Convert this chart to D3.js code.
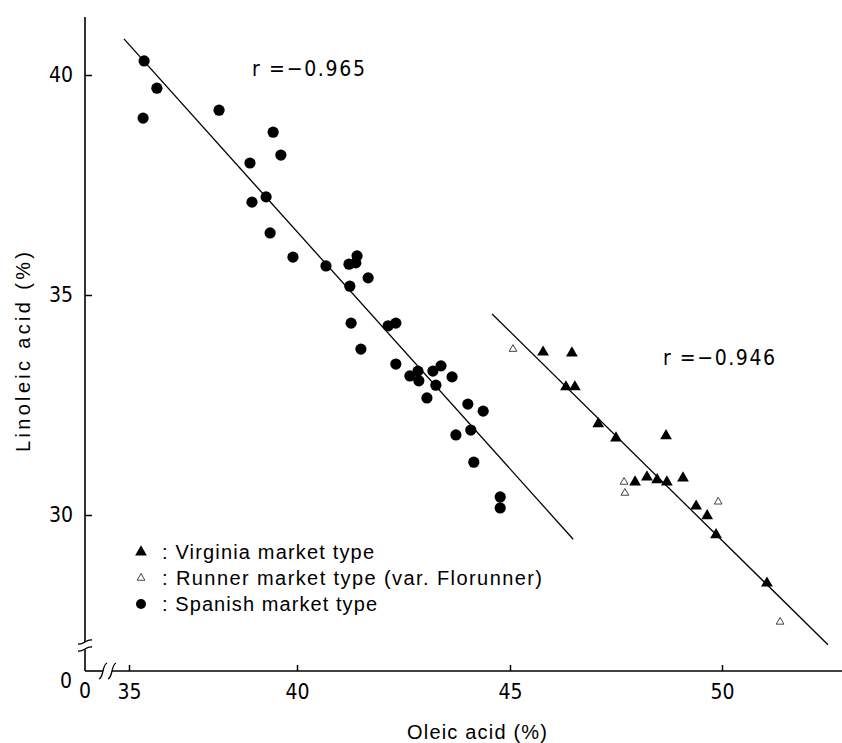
<!DOCTYPE html>
<html>
<head>
<meta charset="utf-8">
<script src="https://cdn.jsdelivr.net/npm/d3@7/dist/d3.min.js"></script>
<style>
  body { margin: 0; background: #fff; }
</style>
</head>
<body>
<div id="chart"></div>
<script>
// Spanish market type (filled circles)
var spanishOleic = [35.45, 35.83, 35.42, 37.68, 39.29, 39.52, 38.60, 39.08, 38.66, 39.20,
    39.88, 40.68, 41.22, 41.38, 41.41, 41.67, 41.24, 41.27, 42.14, 42.32,
    41.50, 42.32, 42.65, 42.84, 42.86, 43.19, 43.38, 43.64, 43.26, 43.05,
    44.01, 44.37, 44.08, 43.73, 44.15, 44.77, 44.77];
var spanishLinoleic = [40.32, 39.70, 39.02, 39.20, 38.70, 38.18, 38.00, 37.23, 37.11, 36.41,
    35.86, 35.66, 35.70, 35.73, 35.89, 35.39, 35.20, 34.36, 34.30, 34.36,
    33.77, 33.43, 33.16, 33.27, 33.05, 33.27, 33.39, 33.14, 32.95, 32.66,
    32.52, 32.36, 31.93, 31.82, 31.20, 30.41, 30.16];

// Virginia market type (filled triangles)
var virginiaOleic = [45.78, 46.46, 46.32, 46.53, 47.08, 47.50, 48.68, 47.95, 48.23, 48.47,
    48.70, 49.08, 49.39, 49.65, 49.86, 51.06];
var virginiaLinoleic = [33.70, 33.68, 32.91, 32.91, 32.07, 31.75, 31.80, 30.75, 30.86, 30.80,
    30.75, 30.84, 30.20, 29.98, 29.55, 28.45];

// Runner market type, var. Florunner (open triangles)
var runnerOleic = [45.07, 47.69, 47.71, 49.91, 51.37];
var runnerLinoleic = [33.77, 30.75, 30.50, 30.30, 27.57];

// regression lines: [oleic, linoleic] end points
var spanishFit = [[34.85, 40.82], [46.49, 29.45]];
var virginiaFit = [[44.58, 34.57], [52.50, 27.05]];
var rTexts = ["r =\u22120.965", "r =\u22120.946"];

var xTicks = [35, 40, 45, 50];
var yTicks = [30, 35, 40];
var legendLabels = [": Virginia market type", ": Runner market type (var. Florunner)", ": Spanish market type"];

var width = 842, height = 743;
var numFont = "'Liberation Sans Narrow', 'DejaVu Sans Condensed', 'Arial Narrow', sans-serif";
var textFont = "'Liberation Sans', Arial, sans-serif";

var svg = d3.select("#chart").append("svg")
    .attr("width", width)
    .attr("height", height);

// the scanned x axis is not evenly spaced, so the scale follows each tick
var x = d3.scaleLinear().domain([35, 40, 45, 50]).range([129, 297, 510, 722]);
var y = d3.scaleLinear().domain([30, 40]).range([515, 75]);

var ax0 = 85, ay0 = 671;

// axes lines with breaks
var axisG = svg.append("g").attr("stroke", "#000").attr("stroke-width", 1.6).attr("fill", "none");
axisG.append("line").attr("x1", ax0).attr("x2", ax0).attr("y1", 17).attr("y2", 642);
axisG.append("line").attr("x1", ax0).attr("x2", ax0).attr("y1", 649).attr("y2", ay0);
axisG.append("line").attr("x1", ax0).attr("x2", 103).attr("y1", ay0).attr("y2", ay0);
axisG.append("line").attr("x1", 112).attr("x2", 842).attr("y1", ay0).attr("y2", ay0);

// break marks
[642, 649].forEach(function(by) {
    axisG.append("path")
        .attr("stroke-width", 1.3)
        .attr("d", "M" + (ax0 - 7) + "," + (by + 2) + " C" + (ax0 - 1) + "," + (by + 3) + " " + (ax0 + 1) + "," + (by - 3) + " " + (ax0 + 7) + "," + (by - 2));
});
[103, 112].forEach(function(bx) {
    axisG.append("path")
        .attr("stroke-width", 1.3)
        .attr("d", "M" + (bx - 4) + "," + (ay0 + 8) + " C" + (bx + 1) + "," + (ay0 + 6) + " " + (bx - 1) + "," + (ay0 - 6) + " " + (bx + 4) + "," + (ay0 - 8));
});

// x axis ticks + labels
var xAxis = svg.append("g")
    .attr("transform", "translate(0," + ay0 + ")")
    .call(d3.axisBottom(x).tickValues(xTicks).tickSize(-6).tickPadding(13).tickSizeOuter(0));
xAxis.select(".domain").remove();
xAxis.selectAll("line").attr("stroke-width", 1.5);
xAxis.selectAll("text").attr("font-size", 21).attr("font-family", numFont).attr("fill", "#000");

// y axis ticks + labels
var yAxis = svg.append("g")
    .attr("transform", "translate(" + ax0 + ",0)")
    .call(d3.axisLeft(y).tickValues(yTicks).tickSize(-7).tickPadding(12).tickSizeOuter(0));
yAxis.select(".domain").remove();
yAxis.selectAll("line").attr("stroke-width", 1.5);
yAxis.selectAll("text").attr("font-size", 21).attr("font-family", numFont).attr("fill", "#000");

// zero labels at the broken origin
svg.append("text").attr("x", 72).attr("y", 688).attr("text-anchor", "end")
    .attr("font-size", 21).attr("font-family", numFont).text("0");
svg.append("text").attr("x", 85).attr("y", 698).attr("text-anchor", "middle")
    .attr("font-size", 21).attr("font-family", numFont).text("0");

// axis titles
svg.append("text")
    .attr("x", 407).attr("y", 739)
    .attr("font-size", 20).attr("font-family", textFont)
    .attr("textLength", 140).attr("lengthAdjust", "spacing")
    .text("Oleic acid (%)");
svg.append("text")
    .attr("transform", "translate(30,452) rotate(-90)")
    .attr("font-size", 20).attr("font-family", textFont)
    .attr("textLength", 200).attr("lengthAdjust", "spacing")
    .text("Linoleic acid (%)");

// regression lines
var line = d3.line().x(function(d) { return x(d[0]); }).y(function(d) { return y(d[1]); });
[spanishFit, virginiaFit].forEach(function(f) {
    svg.append("path").datum(f)
        .attr("d", line)
        .attr("fill", "none")
        .attr("stroke", "#000")
        .attr("stroke-width", 1.3);
});

// r values
svg.append("text").attr("x", 252).attr("y", 76)
    .attr("font-size", 21).attr("font-family", numFont)
    .attr("textLength", 113).attr("lengthAdjust", "spacing")
    .text(rTexts[0]);
svg.append("text").attr("x", 663).attr("y", 365)
    .attr("font-size", 21).attr("font-family", numFont)
    .attr("textLength", 112).attr("lengthAdjust", "spacing")
    .text(rTexts[1]);

// points
var spanish = spanishOleic.map(function(v, i) { return [v, spanishLinoleic[i]]; });
var virginia = virginiaOleic.map(function(v, i) { return [v, virginiaLinoleic[i]]; });
var runner = runnerOleic.map(function(v, i) { return [v, runnerLinoleic[i]]; });

svg.append("g").selectAll("circle")
    .data(spanish)
    .enter()
    .append("circle")
    .attr("cx", function(d) { return x(d[0]); })
    .attr("cy", function(d) { return y(d[1]); })
    .attr("r", 5.6)
    .attr("fill", "#000");

var triFilled = d3.symbol().type(d3.symbolTriangle).size(60);
var triOpen = d3.symbol().type(d3.symbolTriangle).size(26);

svg.append("g").selectAll("path")
    .data(virginia)
    .enter()
    .append("path")
    .attr("d", triFilled)
    .attr("transform", function(d) { return "translate(" + x(d[0]) + "," + y(d[1]) + ")"; })
    .attr("fill", "#000");

svg.append("g").selectAll("path")
    .data(runner)
    .enter()
    .append("path")
    .attr("d", triOpen)
    .attr("transform", function(d) { return "translate(" + x(d[0]) + "," + y(d[1]) + ")"; })
    .attr("fill", "#fff")
    .attr("stroke", "#444")
    .attr("stroke-width", 1);

// legend
var legendY = [559, 585, 611];
var legendLen = [212, 380, 215];
var lg = svg.append("g");
lg.append("path").attr("d", triFilled).attr("transform", "translate(141," + (legendY[0] - 7) + ")").attr("fill", "#000");
lg.append("path").attr("d", triOpen).attr("transform", "translate(141," + (legendY[1] - 7) + ")")
    .attr("fill", "#fff").attr("stroke", "#444").attr("stroke-width", 1);
lg.append("circle").attr("cx", 141).attr("cy", legendY[2] - 7).attr("r", 5).attr("fill", "#000");
lg.selectAll("text")
    .data(legendLabels)
    .enter()
    .append("text")
    .attr("x", 162)
    .attr("y", function(d, i) { return legendY[i]; })
    .attr("font-size", 20)
    .attr("font-family", textFont)
    .attr("textLength", function(d, i) { return legendLen[i]; })
    .attr("lengthAdjust", "spacing")
    .text(function(d) { return d; });
</script>
</body>
</html>
